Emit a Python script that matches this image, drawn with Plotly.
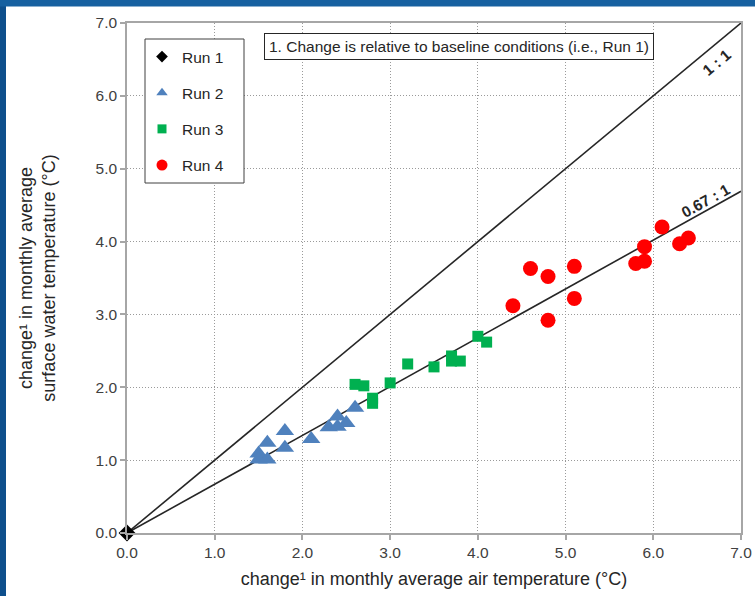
import plotly.graph_objects as go

# ---------------- data ----------------
run1_x = [0.0]
run1_y = [0.0]

run2_x = [1.5, 1.5, 1.6, 1.6, 1.8, 1.8, 2.1, 2.3, 2.4, 2.4, 2.5, 2.6]
run2_y = [1.09, 1.01, 1.01, 1.24, 1.40, 1.17, 1.29, 1.45, 1.60, 1.46, 1.51, 1.72]

run3_x = [2.6, 2.7, 2.8, 2.8, 3.0, 3.2, 3.5, 3.7, 3.7, 3.8, 4.0, 4.1]
run3_y = [2.04, 2.02, 1.85, 1.78, 2.06, 2.32, 2.28, 2.43, 2.36, 2.36, 2.70, 2.62]

run4_x = [4.4, 4.6, 4.8, 4.8, 5.1, 5.1, 5.8, 5.9, 5.9, 6.1, 6.3, 6.4]
run4_y = [3.12, 3.63, 3.52, 2.92, 3.66, 3.22, 3.70, 3.73, 3.93, 4.20, 3.97, 4.05]

ratio_slopes = [1.0, 0.67]
ratio_labels = ["1 : 1", "0.67 : 1"]
line_x = [0.0, 7.0]

x_ticks = [0, 1, 2, 3, 4, 5, 6, 7]
y_ticks = [0, 1, 2, 3, 4, 5, 6, 7]

series_names = ["Run 1", "Run 2", "Run 3", "Run 4"]
note_text = "1. Change is relative to baseline conditions (i.e., Run 1)"
x_title = "change¹ in monthly average air temperature (°C)"
y_title = "change¹ in monthly average<br>surface water temperature (°C)"

# ---------------- style ----------------
FONT = "Liberation Sans, Arial, sans-serif"
TXT = "#404040"
W, H = 755, 596
ML, MR, MT, MB = 127, 14, 23, 63

styles = [
    dict(symbol="diamond", color="#000000", size=13, lsize=9),
    dict(symbol="triangle-up", color="#4F81BD", size=16, lsize=10),
    dict(symbol="square", color="#00B050", size=11, lsize=9),
    dict(symbol="circle", color="#FF0000", size=15, lsize=11),
]
data = [(run1_x, run1_y), (run2_x, run2_y), (run3_x, run3_y), (run4_x, run4_y)]

fig = go.Figure()

# ratio lines
for s in ratio_slopes:
    fig.add_trace(go.Scatter(
        x=line_x, y=[s * v for v in line_x], mode="lines",
        line=dict(color="#262626", width=1.6), showlegend=False, hoverinfo="skip",
    ))

# data markers (Run 1 drawn last so it sits on top)
for i in [1, 2, 3, 0]:
    st = styles[i]
    xs, ys = data[i]
    fig.add_trace(go.Scatter(
        x=xs, y=ys, mode="markers", name=series_names[i], showlegend=False,
        marker=dict(symbol=st["symbol"], color=st["color"], size=st["size"], line=dict(width=0)),
        cliponaxis=False,
    ))

# legend-only entries (smaller symbols, as in the reference)
for i, st in enumerate(styles):
    fig.add_trace(go.Scatter(
        x=[None], y=[None], mode="markers", name=series_names[i], legendgroup=series_names[i],
        marker=dict(symbol=st["symbol"], color=st["color"], size=st["lsize"], line=dict(width=0)),
    ))

pw = W - ML - MR
ph = H - MT - MB

def px2paper_x(px):
    return (px - ML) / pw

def px2paper_y(py):
    return (H - MB - py) / ph

shapes = [
    # legend box
    dict(type="rect", xref="paper", yref="paper",
         x0=px2paper_x(145), x1=px2paper_x(244), y0=px2paper_y(183), y1=px2paper_y(39),
         line=dict(color="#404040", width=1), fillcolor="rgba(255,255,255,1)", layer="above"),
    # blue frame (left and top bars)
    dict(type="rect", xref="paper", yref="paper",
         x0=px2paper_x(0), x1=px2paper_x(6), y0=px2paper_y(H), y1=px2paper_y(0),
         line=dict(width=0), fillcolor="#0E4F8C", layer="below"),
    dict(type="rect", xref="paper", yref="paper",
         x0=px2paper_x(0), x1=px2paper_x(W), y0=px2paper_y(6.5), y1=px2paper_y(-1),
         line=dict(width=0), fillcolor="#1660A0", layer="below"),
]

annotations = [
    dict(text=note_text, xref="paper", yref="paper",
         x=px2paper_x(459), y=px2paper_y(46.5), xanchor="center", yanchor="middle",
         showarrow=False, font=dict(family=FONT, size=15.5, color="#262626"),
         bordercolor="#262626", borderwidth=1, borderpad=4, bgcolor="white"),
    dict(text="<b>" + ratio_labels[0] + "</b>", xref="x", yref="y", x=6.72, y=6.46,
         showarrow=False, textangle=-40, font=dict(family=FONT, size=15.5, color="#262626")),
    dict(text="<b>" + ratio_labels[1] + "</b>", xref="x", yref="y", x=6.60, y=4.57,
         showarrow=False, textangle=-29, font=dict(family=FONT, size=15.5, color="#262626")),
]

axis_common = dict(
    showline=True, linecolor="#A6A6A6", linewidth=1.5, mirror=True,
    showgrid=True, gridcolor="#9A9A9A", griddash="1px,2px", gridwidth=1,
    ticks="outside", ticklen=5, tickcolor="#A6A6A6", tickwidth=1.5,
    zeroline=False, tickformat=".1f",
    tickfont=dict(family=FONT, size=15.5, color=TXT),
)

fig.update_layout(
    width=W, height=H,
    margin=dict(l=ML, r=MR, t=MT, b=MB, autoexpand=False),
    paper_bgcolor="white", plot_bgcolor="white",
    font=dict(family=FONT, color=TXT),
    xaxis=dict(range=[0, 7], tickvals=x_ticks, **axis_common,
               title=dict(text=x_title, font=dict(family=FONT, size=18, color="#262626"), standoff=12)),
    yaxis=dict(range=[0, 7], tickvals=y_ticks, **axis_common,
               title=dict(text=y_title, font=dict(family=FONT, size=18, color="#262626"), standoff=35)),
    legend=dict(x=px2paper_x(142), y=px2paper_y(40), xanchor="left", yanchor="top",
                bgcolor="rgba(0,0,0,0)", borderwidth=0, tracegroupgap=13,
                traceorder="grouped", font=dict(family=FONT, size=15.5, color="#262626"),
                itemsizing="trace"),
    shapes=shapes,
    annotations=annotations,
    showlegend=True,
)

fig.write_html("out.html", config={"displayModeBar": False},
               post_script="document.body.style.margin='0px';")
